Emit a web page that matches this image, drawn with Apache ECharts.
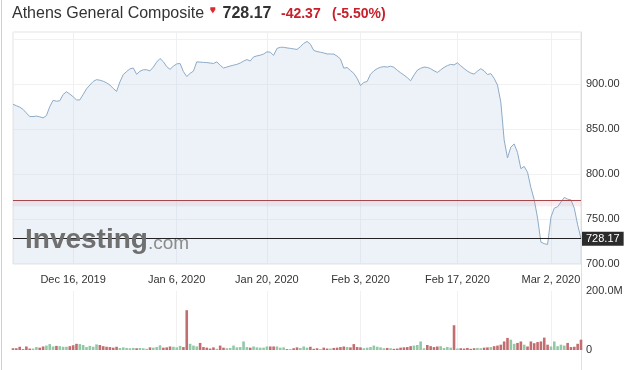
<!DOCTYPE html>
<html><head><meta charset="utf-8">
<script src="https://cdn.jsdelivr.net/npm/echarts/dist/echarts.min.js"></script>
<style>html,body{margin:0;padding:0;background:#fff}#c{width:629px;height:370px}</style>
</head><body><div id="c"></div>
<script>
const title = 'Athens General Composite';
const lastPrice = 728.17;
const prevClose = 770.54;
const change = -42.37;
const changePct = -5.50;

const prices = [
877.7, 876.0, 874.5, 872.0, 868.0, 864.0, 864.0, 864.5, 863.7, 862.5,
865.0, 875.0, 882.0, 881.0, 881.5, 888.5, 891.5, 889.0, 886.0, 882.5,
882.5, 888.5, 894.8, 899.0, 903.0, 905.0, 904.4, 903.2, 901.5, 899.0,
895.2, 892.0, 902.5, 910.7, 914.0, 917.0, 918.0, 911.0, 914.4, 916.0,
916.0, 914.8, 919.0, 924.5, 928.5, 925.0, 919.5, 916.5, 920.0, 922.5,
923.0, 914.0, 908.5, 912.0, 914.5, 924.8, 924.5, 924.2, 924.0, 923.5,
923.0, 924.8, 921.0, 918.0, 919.0, 920.2, 921.1, 922.0, 923.5, 925.6,
927.3, 925.8, 930.3, 931.4, 932.2, 933.5, 936.0, 935.5, 932.0, 939.7,
941.0, 941.0, 940.3, 939.8, 939.2, 938.6, 941.6, 945.3, 947.5, 944.5,
937.5, 936.3, 935.5, 934.7, 933.6, 933.6, 933.4, 931.2, 928.0, 917.8,
918.5, 915.2, 912.0, 906.5, 898.5, 901.9, 903.0, 911.0, 914.8, 917.3,
918.8, 919.5, 919.0, 920.0, 918.8, 915.5, 912.7, 910.2, 907.3, 903.7,
910.0, 915.5, 917.6, 919.0, 918.6, 917.2, 914.9, 913.0, 915.8, 918.6,
920.6, 922.0, 921.4, 923.7, 920.5, 917.4, 914.5, 912.4, 911.2, 914.5,
917.2, 914.8, 910.7, 911.7, 906.5, 899.0, 880.0, 838.0, 818.0, 830.0,
833.5, 824.0, 806.0, 808.5, 802.0, 785.0, 771.5, 751.0, 724.3, 722.6,
721.8, 752.0, 762.2, 763.6, 769.0, 774.0, 772.1, 771.3, 762.0, 743.5,
728.17];

// volume in millions
const volumesM = [
6, 6, 11, 3, 12, 5, 5, 10, 8, 12,
15, 20, 12, 14, 13, 11, 11, 13, 16, 21,
20, 17, 10, 14, 11, 19, 17, 13, 11, 10,
8, 11, 7, 9, 7, 6, 7, 6, 7, 6,
4, 9, 8, 10, 16, 8, 9, 12, 11, 9,
14, 10, 135, 21, 15, 12, 24, 10, 8, 5,
9, 4, 15, 8, 6, 7, 15, 9, 10, 29,
10, 8, 12, 9, 8, 8, 12, 12, 12, 12,
8, 9, 3, 2, 6, 9, 7, 12, 8, 11,
4, 6, 2, 8, 5, 5, 7, 8, 10, 12,
10, 9, 20, 10, 9, 6, 8, 10, 15, 11,
9, 6, 7, 6, 4, 5, 8, 9, 10, 13,
15, 17, 29, 6, 17, 13, 10, 12, 13, 7,
10, 8, 84, 5, 6, 5, 7, 4, 6, 7,
6, 8, 9, 10, 13, 15, 18, 29, 41, 35,
21, 24, 29, 18, 12, 29, 23, 27, 29, 42,
18, 12, 29, 13, 18, 15, 24, 10, 11, 21,
35];

const tickIndex = [18, 49, 76, 104, 133, 161];
const tickLabels = ['Dec 16, 2019', 'Jan 6, 2020', 'Jan 20, 2020', 'Feb 3, 2020', 'Feb 17, 2020', 'Mar 2, 2020'];

const FONT = '"Liberation Sans", Arial, sans-serif';
const categories = prices.map((_, i) => i);
const volumes = volumesM.map(v => v * 1e6);
const UP = '#92c8a6', DOWN = '#c26e70';
const barData = volumes.map((v, i) => ({
  value: v,
  itemStyle: { color: (i > 0 && prices[i] >= prices[i - 1]) ? UP : DOWN }
}));
const showTick = i => tickIndex.indexOf(i) >= 0;

const chart = echarts.init(document.getElementById('c'), null, { renderer: 'canvas' });
chart.setOption({
  animation: false,
  backgroundColor: '#fff',
  textStyle: { fontFamily: FONT },
  grid: [
    { left: 13, right: 48, top: 32, height: 232, show: true, borderColor: '#e3e3e3', borderWidth: 1 },
    { left: 13, right: 48, top: 291, height: 59 }
  ],
  xAxis: [
    {
      type: 'category', gridIndex: 0, data: categories, boundaryGap: false,
      axisLine: { show: false }, axisTick: { show: false },
      axisLabel: {
        interval: (i) => showTick(i),
        formatter: (v, i) => tickLabels[tickIndex.indexOf(i)] || '',
        color: '#333', fontSize: 11, margin: 10, fontFamily: FONT
      },
      splitLine: { show: true, interval: (i) => showTick(i), lineStyle: { color: '#eef0f2' } }
    },
    {
      type: 'category', gridIndex: 1, data: categories, boundaryGap: false,
      axisLine: { show: false }, axisTick: { show: false }, axisLabel: { show: false },
      splitLine: { show: true, interval: (i) => showTick(i), lineStyle: { color: '#f1f1f1' } }
    }
  ],
  yAxis: [
    {
      type: 'value', gridIndex: 0, position: 'right', min: 700, max: 958, interval: 50,
      axisLine: { show: true, lineStyle: { color: '#dedede' } }, axisTick: { show: false },
      axisLabel: {
        color: '#333', fontSize: 11, margin: 5, fontFamily: FONT, showMaxLabel: false,
        formatter: v => v > 900 ? '' : v.toFixed(2)
      },
      splitLine: { show: true, lineStyle: { color: '#f1f1f1' } }
    },
    {
      type: 'value', gridIndex: 1, position: 'right', min: 0, max: 200e6, interval: 200e6,
      axisLine: { show: true, lineStyle: { color: '#dedede' } }, axisTick: { show: false },
      axisLabel: {
        color: '#333', fontSize: 11, margin: 5, fontFamily: FONT,
        formatter: v => v === 0 ? '0' : (v / 1e6).toFixed(1) + 'M'
      },
      splitLine: { show: false }
    }
  ],
  series: [
    {
      type: 'line', xAxisIndex: 0, yAxisIndex: 0, data: prices,
      symbol: 'none', smooth: false,
      lineStyle: { color: '#8eabc7', width: 1 },
      areaStyle: { color: 'rgba(190,210,228,0.42)', origin: 'start' },
      markArea: {
        silent: true,
        itemStyle: { color: 'rgba(235,170,185,0.22)' },
        data: [[{ yAxis: prevClose - 6.3 }, { yAxis: prevClose }]]
      },
      markLine: {
        symbol: 'none', silent: true, animation: false,
        data: [
          { yAxis: prevClose, lineStyle: { color: '#a8474a', width: 1, type: 'solid' }, label: { show: false } },
          {
            yAxis: lastPrice, lineStyle: { color: '#222', width: 1, type: 'solid' },
            label: {
              show: true, position: 'end', distance: 1,
              formatter: lastPrice.toFixed(2),
              backgroundColor: '#2b2b2b', color: '#fff', fontSize: 11, fontFamily: FONT,
              padding: [2, 4, 1, 4]
            }
          }
        ]
      },
      z: 2
    },
    {
      type: 'bar', xAxisIndex: 1, yAxisIndex: 1, data: barData, barWidth: 2.6
    }
  ],
  graphic: [
    { type: 'line', shape: { x1: 1.5, y1: 0, x2: 1.5, y2: 370 }, style: { stroke: '#cfcfcf', lineWidth: 1 } },
    { type: 'line', shape: { x1: 581.5, y1: 264, x2: 581.5, y2: 370 }, style: { stroke: '#e0e0e0', lineWidth: 1 } },
    { type: 'text', x: 12, y: 13.8, style: { text: title, font: '16px ' + FONT, fill: '#333', verticalAlign: 'middle' } },
    { type: 'polygon', shape: { points: [[210.3, 7.3], [215.3, 7.3], [215.3, 9.8], [212.8, 13.3], [210.3, 9.8]] }, style: { fill: '#e0262f' } },
    { type: 'text', x: 222.5, y: 13.8, style: { text: lastPrice.toFixed(2), font: 'bold 16px ' + FONT, fill: '#333', verticalAlign: 'middle' } },
    { type: 'text', x: 281, y: 14.4, style: { text: change.toFixed(2), font: 'bold 14px ' + FONT, fill: '#c8202a', verticalAlign: 'middle' } },
    { type: 'text', x: 332, y: 14.4, style: { text: '(' + changePct.toFixed(2) + '%)', font: 'bold 14px ' + FONT, fill: '#c8202a', verticalAlign: 'middle' } },
    { type: 'text', x: 25, y: 240.3, z: 100, style: { text: 'Investing', font: 'bold 28px ' + FONT, fill: '#6f6f6f', verticalAlign: 'middle' } },
    { type: 'text', x: 148, y: 243.4, z: 100, style: { text: '.com', font: '19px ' + FONT, fill: '#8c8c8c', verticalAlign: 'middle' } }
  ]
});
</script>
</body></html>
